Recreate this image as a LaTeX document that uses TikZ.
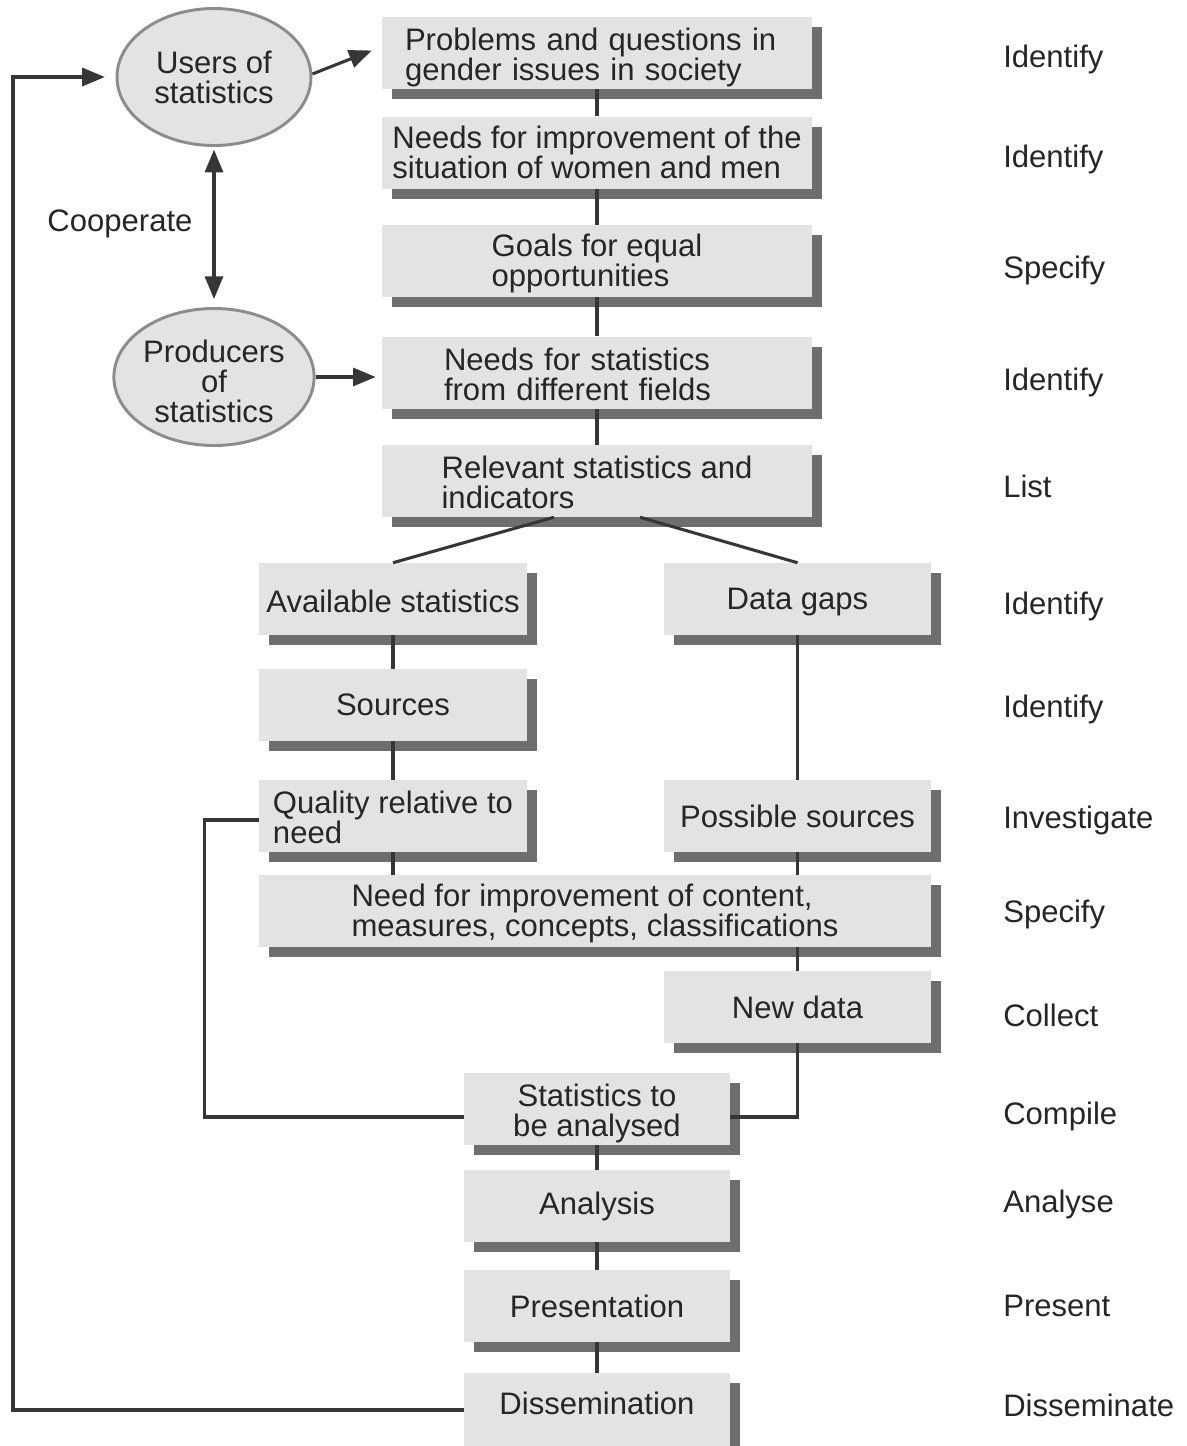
\documentclass[tikz,border=0pt]{standalone}
\usepackage{fontspec}
\setmainfont{Liberation Sans}
\usetikzlibrary{shapes.geometric,shadows,arrows.meta,calc}
\definecolor{boxgray}{HTML}{E3E3E3}
\definecolor{shgray}{HTML}{6E6E6E}
\definecolor{linegray}{HTML}{363636}
\definecolor{ellline}{HTML}{8C8C8C}
\definecolor{txt}{HTML}{262626}
\newcommand\fs{\fontsize{23.3pt}{22.5pt}\selectfont\lineskiplimit=-20pt}
\newcommand\lo[1]{\rule{0pt}{#1}}
\begin{document}
\begin{tikzpicture}[x=0.75pt,y=-0.75pt,
  gbox/.style={fill=boxgray, inner sep=0pt, minimum height=54pt, text=txt, font=\fs,
    drop shadow={shadow xshift=7.5pt, shadow yshift=-7.5pt, fill=shgray, opacity=1}},
  wmain/.style={minimum width=322.5pt},
  wleft/.style={minimum width=201pt},
  wright/.style={minimum width=200.25pt},
  wlow/.style={minimum width=199.5pt},
  ell/.style={ellipse, draw=ellline, line width=2.2pt, fill=boxgray, minimum width=145.5pt,
    minimum height=102.75pt, inner sep=0pt, align=center, font=\fs, text=txt},
  lab/.style={anchor=west, font=\fs, text=txt, inner sep=0pt},
  conn/.style={draw=linegray, line width=2.3pt},
  tip/.tip={Triangle[length=17pt,width=13.5pt]},
  arr/.style={conn, -tip},
]
\useasboundingbox (0,0) rectangle (1187,1446);
\clip (0,0) rectangle (1187,1446);
\fill[white] (0,0) rectangle (1187,1446);

% main column
\node[gbox,wmain,text width=288pt,inner xsep=17.25pt,align=left] (B1) at (597,52.5) {\lo{24.5pt}Problems and questions in\\gender issues in society};
\node[gbox,wmain,align=left] (B2) at (597,152.5) {Needs for improvement of the\\situation of women and men};
\node[gbox,wmain,align=left] (B3) at (597,261) {\lo{20pt}Goals for equal\\opportunities};
\node[gbox,wmain,text width=229.5pt,inner xsep=46.5pt,align=left] (B4) at (597,372.5) {\lo{20pt}Needs for statistics\\from different fields};
\node[gbox,wmain,align=left] (B5) at (597,481) {\lo{19pt}Relevant statistics and\\indicators};
\node[gbox,wleft] (B6) at (393,599) {\lo{20pt}Available statistics};
\node[gbox,wright] (B7) at (797.5,599) {\lo{20pt}Data gaps};
\node[gbox,wleft] (B8) at (393,705) {Sources};
\node[gbox,wleft,align=left] (B9) at (393,816) {\lo{19pt}Quality relative to\\need};
\node[gbox,wright] (B10) at (797.5,816) {Possible sources};
\node[gbox,minimum width=504pt,align=left] (B11) at (595,911) {\lo{20.5pt}Need for improvement of content,\\measures, concepts, classifications};
\node[gbox,wright] (B12) at (797.5,1007) {New data};
\node[gbox,wlow,align=center] (B13) at (597,1109) {\lo{24pt}Statistics to\\be analysed};
\node[gbox,wlow] (B14) at (597,1206) {Analysis};
\node[gbox,wlow] (B15) at (597,1306) {Presentation};
\node[gbox,wlow,minimum height=67.5pt] (B16) at (597,1418) {\rule[-22.5pt]{0pt}{22.5pt}Dissemination};

% ellipses
\node[ell] (U) at (214,77) {Users of\\statistics};
\node[ell] (P) at (214,377) {\lo{24pt}Producers\\of\\statistics};
\node[font=\fs,text=txt,inner sep=0pt] (coop) at (120,224) {Cooperate};

% right labels
\node[lab] (L1) at (1003,59) {Identify};
\node[lab] (L2) at (1003,159) {Identify};
\node[lab] (L3) at (1003,270) {Specify};
\node[lab] (L4) at (1003,382) {Identify};
\node[lab] (L5) at (1003,486) {List};
\node[lab] (L6) at (1003,606) {Identify};
\node[lab] (L7) at (1003,709) {Identify};
\node[lab] (L8) at (1003,820) {Investigate};
\node[lab] (L9) at (1003,914) {Specify};
\node[lab] (L10) at (1003,1015) {Collect};
\node[lab] (L11) at (1003,1116) {Compile};
\node[lab] (L12) at (1003,1204) {Analyse};
\node[lab] (L13) at (1003,1306) {Present};
\node[lab] (L14) at (1003,1405) {Disseminate};

% connectors
\draw[conn] (B1.south) -- (B2.north);
\draw[conn] (B2.south) -- (B3.north);
\draw[conn] (B3.south) -- (B4.north);
\draw[conn] (B4.south) -- (B5.north);
\draw[conn] ($(B5.south west)!0.4!(B5.south east)$) -- (B6.north);
\draw[conn] ($(B5.south west)!0.6!(B5.south east)$) -- (B7.north);
\draw[conn] (B6.south) -- (B8.north);
\draw[conn] (B8.south) -- (B9.north);
\draw[conn] (B7.south) -- (B10.north);
\draw[conn] (B9.south) -- (B9.south |- B11.north);
\draw[conn] (B10.south) -- (B10.south |- B11.north);
\draw[conn] (B12.north |- B11.south) -- (B12.north);
\draw[conn] (B12.south) |- ($(B13.east)+(0,8)$);
\draw[conn] ($(B9.west)+(0,4)$) -- ++(-54,0) |- ($(B13.west)+(0,8)$);
\draw[conn] (B13.south) -- (B14.north);
\draw[conn] (B14.south) -- (B15.north);
\draw[conn] (B15.south) -- (B16.north);

\coordinate (fb) at (13,1410);
\draw[arr, shorten >=8pt] ($(B16.west)+(0,-8)$) -- (fb) |- (U.west);
\draw[arr] ($(U.east)+(0,-3)$) -- ($(B1.west)+(-10,-2)$);
\draw[arr] (P.east) -- ($(P.east -| B4.west)+(-6,0)$);
\draw[conn, tip-tip, shorten <=2pt, shorten >=6pt] (U.south) -- (P.north);
\end{tikzpicture}
\end{document}
